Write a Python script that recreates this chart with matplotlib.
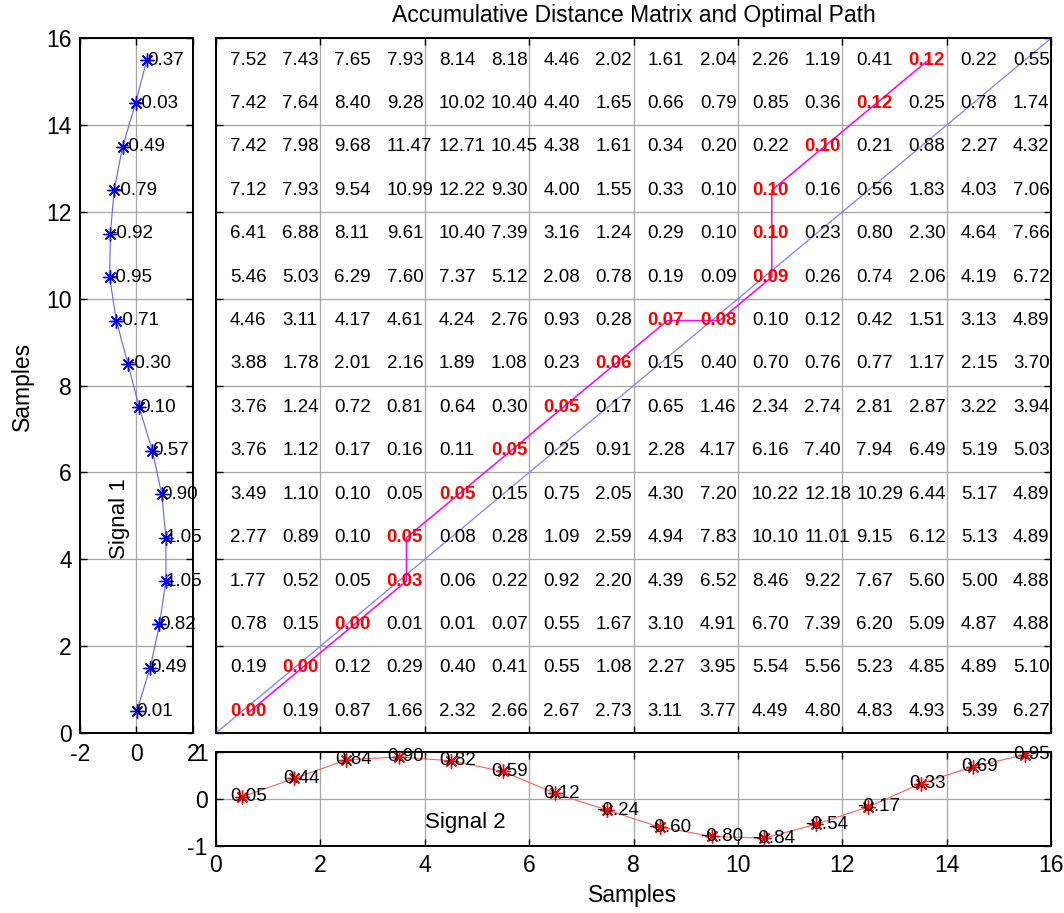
import matplotlib
matplotlib.use('Agg')
import matplotlib.pyplot as plt
import numpy as np

plt.rcParams['font.family'] = ['Liberation Sans', 'DejaVu Sans']
plt.rcParams['axes.unicode_minus'] = False

# Señal 1 (eje vertical, de la muestra 1 a la 16)
signal_1 = [0.01, 0.49, 0.82, 1.05, 1.05, 0.90, 0.57, 0.10,
            -0.30, -0.71, -0.95, -0.92, -0.79, -0.49, -0.03, 0.37]
# Señal 2 (eje horizontal)
signal_2 = [0.05, 0.44, 0.84, 0.90, 0.82, 0.59, 0.12, -0.24,
            -0.60, -0.80, -0.84, -0.54, -0.17, 0.33, 0.69, 0.95]

# Matriz de distancia acumulada, filas de arriba (muestra 16) hacia abajo (muestra 1)
acc_rows = [
    [7.52, 7.43, 7.65, 7.93, 8.14, 8.18, 4.46, 2.02, 1.61, 2.04, 2.26, 1.19, 0.41, 0.12, 0.22, 0.55],
    [7.42, 7.64, 8.40, 9.28, 10.02, 10.40, 4.40, 1.65, 0.66, 0.79, 0.85, 0.36, 0.12, 0.25, 0.78, 1.74],
    [7.42, 7.98, 9.68, 11.47, 12.71, 10.45, 4.38, 1.61, 0.34, 0.20, 0.22, 0.10, 0.21, 0.88, 2.27, 4.32],
    [7.12, 7.93, 9.54, 10.99, 12.22, 9.30, 4.00, 1.55, 0.33, 0.10, 0.10, 0.16, 0.56, 1.83, 4.03, 7.06],
    [6.41, 6.88, 8.11, 9.61, 10.40, 7.39, 3.16, 1.24, 0.29, 0.10, 0.10, 0.23, 0.80, 2.30, 4.64, 7.66],
    [5.46, 5.03, 6.29, 7.60, 7.37, 5.12, 2.08, 0.78, 0.19, 0.09, 0.09, 0.26, 0.74, 2.06, 4.19, 6.72],
    [4.46, 3.11, 4.17, 4.61, 4.24, 2.76, 0.93, 0.28, 0.07, 0.08, 0.10, 0.12, 0.42, 1.51, 3.13, 4.89],
    [3.88, 1.78, 2.01, 2.16, 1.89, 1.08, 0.23, 0.06, 0.15, 0.40, 0.70, 0.76, 0.77, 1.17, 2.15, 3.70],
    [3.76, 1.24, 0.72, 0.81, 0.64, 0.30, 0.05, 0.17, 0.65, 1.46, 2.34, 2.74, 2.81, 2.87, 3.22, 3.94],
    [3.76, 1.12, 0.17, 0.16, 0.11, 0.05, 0.25, 0.91, 2.28, 4.17, 6.16, 7.40, 7.94, 6.49, 5.19, 5.03],
    [3.49, 1.10, 0.10, 0.05, 0.05, 0.15, 0.75, 2.05, 4.30, 7.20, 10.22, 12.18, 10.29, 6.44, 5.17, 4.89],
    [2.77, 0.89, 0.10, 0.05, 0.08, 0.28, 1.09, 2.59, 4.94, 7.83, 10.10, 11.01, 9.15, 6.12, 5.13, 4.89],
    [1.77, 0.52, 0.05, 0.03, 0.06, 0.22, 0.92, 2.20, 4.39, 6.52, 8.46, 9.22, 7.67, 5.60, 5.00, 4.88],
    [0.78, 0.15, 0.00, 0.01, 0.01, 0.07, 0.55, 1.67, 3.10, 4.91, 6.70, 7.39, 6.20, 5.09, 4.87, 4.88],
    [0.19, 0.00, 0.12, 0.29, 0.40, 0.41, 0.55, 1.08, 2.27, 3.95, 5.54, 5.56, 5.23, 4.85, 4.89, 5.10],
    [0.00, 0.19, 0.87, 1.66, 2.32, 2.66, 2.67, 2.73, 3.11, 3.77, 4.49, 4.80, 4.83, 4.93, 5.39, 6.27],
]

# Camino óptimo (columna = muestra de señal 2, fila = muestra de señal 1)
path_cols = [0, 1, 2, 3, 3, 4, 5, 6, 7, 8, 9, 10, 10, 10, 11, 12, 13]
path_rows = [0, 1, 2, 3, 4, 5, 6, 7, 8, 9, 9, 10, 11, 12, 13, 14, 15]

n = len(signal_1)
pos = np.arange(n) + 0.5
on_path = set(zip(path_cols, path_rows))

W, H = 1064, 913
fig = plt.figure(figsize=(W / 100, H / 100), dpi=100)


def px_rect(left, top, right, bottom):
    return [left / W, 1 - bottom / H, (right - left) / W, (bottom - top) / H]


def estilo(ax):
    ax.tick_params(direction='in', length=5, width=1, top=True, right=True,
                   labelsize=16.5, pad=6)
    for s in ax.spines.values():
        s.set_linewidth(1.4)
    ax.grid(True, color='0.65', linewidth=0.9)
    ax.set_axisbelow(True)


ax_main = fig.add_axes(px_rect(216, 38.3, 1051, 733))
ax_left = fig.add_axes(px_rect(80, 38.3, 192.7, 733))
ax_bot = fig.add_axes(px_rect(216, 752.3, 1051, 845.7))

# --- matriz ---
estilo(ax_main)
ax_main.set_xlim(0, 16)
ax_main.set_ylim(0, 16)
ax_main.set_xticks(range(0, 17, 2))
ax_main.set_yticks(range(0, 17, 2))
ax_main.set_xticklabels([])
ax_main.set_yticklabels([])
ax_main.plot([0, n], [0, n], color='#8080ff', linewidth=0.9, zorder=2)
ax_main.plot(np.array(path_cols) + 0.65, np.array(path_rows) + 0.5,
             color='#ff00ff', linewidth=1.1, zorder=2)
for r, fila in enumerate(acc_rows):
    j = n - 1 - r
    for c, v in enumerate(fila):
        if (c, j) in on_path:
            ax_main.text(c + 0.27, j + 0.5, f'{v:.2f}', color='red', fontweight='bold',
                         fontsize=13.5, ha='left', va='center', zorder=3)
        else:
            ax_main.text(c + 0.27, j + 0.5, f'{v:.2f}', color='black',
                         fontsize=13.5, ha='left', va='center', zorder=3)
ax_main.set_title('Accumulative Distance Matrix and Optimal Path', fontsize=16.5, pad=11.5)

# --- señal 1 ---
estilo(ax_left)
ax_left.set_xlim(-2, 2)
ax_left.set_ylim(0, 16)
ax_left.set_xticks([-2, 0, 2])
ax_left.set_yticks(range(0, 17, 2))
ax_left.plot(signal_1, pos, color='#6060ff', linewidth=0.8, zorder=2)
ax_left.plot(signal_1, pos, linestyle='none', marker=(8, 2, 0), markersize=10,
             markeredgecolor='blue', markeredgewidth=1, zorder=3)
for v, y in zip(signal_1, pos):
    ax_left.text(v, y, f'{v:.2f}', fontsize=13.5, ha='left', va='center', zorder=4)
ax_left.text(-0.6, 4, 'Signal 1', fontsize=16, rotation=90, rotation_mode='anchor',
             ha='left', va='center')
ax_left.tick_params(axis='x', pad=7)

# --- señal 2 ---
estilo(ax_bot)
ax_bot.set_xlim(0, 16)
ax_bot.set_ylim(-1, 1)
ax_bot.set_xticks(range(0, 17, 2))
ax_bot.set_yticks([-1, 0, 1])
ax_bot.plot(pos, signal_2, color='#ff6060', linewidth=0.8, zorder=2)
ax_bot.plot(pos, signal_2, linestyle='none', marker=(8, 2, 0), markersize=10,
            markeredgecolor='red', markeredgewidth=1, zorder=3)
for x, v in zip(np.arange(n), signal_2):
    ax_bot.text(x + 0.28, v, f'{v:.2f}', fontsize=13.5, ha='left', va='center', zorder=4)
ax_bot.text(4, -0.5, 'Signal 2', fontsize=16, ha='left', va='center')
ax_bot.tick_params(axis='x', pad=6)

fig.text(22 / W, 1 - 386 / H, 'Samples', rotation=90, fontsize=16.5, ha='center', va='center')
fig.text(633 / W, 1 - 895 / H, 'Samples', fontsize=16.5, ha='center', va='center')

plt.savefig('out.png', dpi=100)
